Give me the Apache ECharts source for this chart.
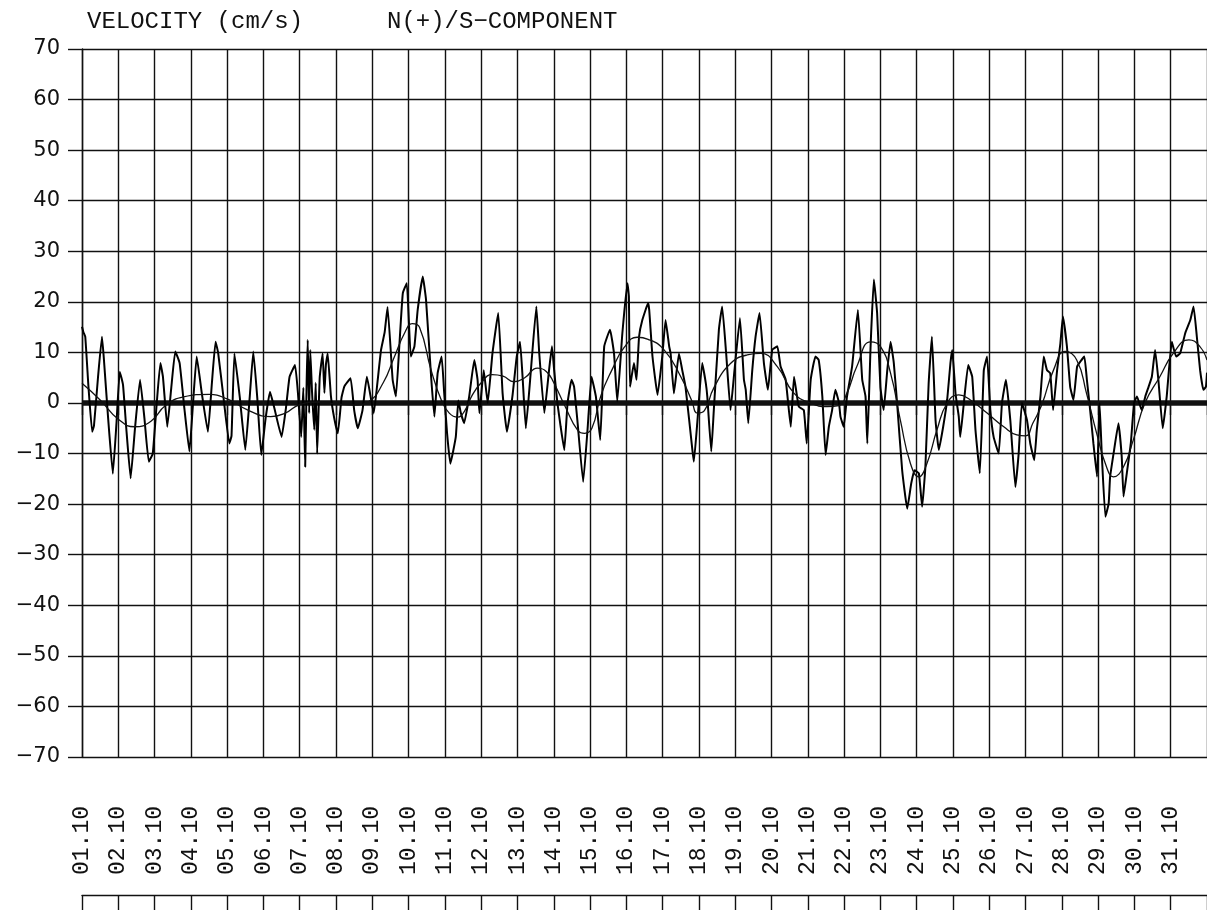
<!DOCTYPE html>
<html>
<head>
<meta charset="utf-8">
<title>Velocity N/S component</title>
<script src="https://cdn.jsdelivr.net/npm/echarts@6/dist/echarts.min.js"></script>
<style>
  html, body { margin: 0; padding: 0; background: #fff; }
  #chart { width: 1207px; height: 910px; }
</style>
</head>
<body>
<div id="chart"></div>
<script>
// Day labels along the time axis (one per day of October)
const DAY_LABELS = [
  '01.10','02.10','03.10','04.10','05.10','06.10','07.10','08.10','09.10','10.10',
  '11.10','12.10','13.10','14.10','15.10','16.10','17.10','18.10','19.10','20.10',
  '21.10','22.10','23.10','24.10','25.10','26.10','27.10','28.10','29.10','30.10','31.10'
];
const Y_MIN = -70, Y_MAX = 70, Y_STEP = 10;
const TITLE_LEFT = 'VELOCITY (cm/s)';
const TITLE_RIGHT = 'N(+)/S\u2212COMPONENT';

// Measured current, [time in days since 01.10 00:00, velocity cm/s]
const RAW_DAYS_01_05 = [
  [0.00,15.1],[0.04,14.0],[0.09,13.1],[0.18,3.0],[0.28,-5.7],[0.33,-4.5],[0.44,5.0],[0.55,13.1],[0.60,9.0],
  [0.72,-3.0],[0.85,-14.0],[0.95,-4.0],[1.04,6.2],[1.13,3.6],[1.22,-5.0],[1.34,-14.9],[1.46,-5.0],
  [1.60,4.6],[1.72,-3.0],[1.84,-11.6],[1.95,-10.0],[2.06,0.0],[2.16,7.9],[2.23,5.2],[2.35,-4.7],
  [2.46,3.0],[2.57,10.2],[2.69,7.9],[2.82,-1.0],[2.96,-9.6],[3.06,0.0],[3.16,9.2],[3.30,2.0],
  [3.47,-5.7],[3.58,4.0],[3.68,12.1],[3.75,10.0],[3.90,1.0],[4.06,-8.0],[4.12,-6.5],[4.20,9.8],
  [4.35,1.0],[4.50,-9.3],[4.62,1.0],[4.72,10.2],[4.83,1.0],[4.94,-10.3],[5.06,-3.0],[5.18,2.2]
];
const RAW_DAYS_06_10 = [
  [5.30,-1.0],[5.50,-6.7],[5.62,-1.0],[5.72,5.2],[5.87,7.5],[5.95,2.0],[6.04,-6.7],[6.10,3.0],
  [6.15,-12.6],[6.19,4.0],[6.22,12.5],[6.26,-2.0],[6.29,10.5],[6.34,2.0],[6.40,-5.3],[6.44,4.0],
  [6.48,-10.0],[6.55,5.0],[6.63,9.8],[6.68,2.0],[6.72,7.5],[6.77,9.8],[6.86,1.3],[6.95,-3.0],
  [7.05,-6.0],[7.15,1.0],[7.23,3.3],[7.40,4.9],[7.50,-1.4],[7.60,-5.0],[7.73,-1.4],[7.85,5.2],
  [8.04,-2.0],[8.14,4.0],[8.24,10.5],[8.34,14.0],[8.42,19.0],[8.56,4.6],[8.65,1.3],[8.75,12.0],
  [8.84,21.7],[8.95,23.7],[9.06,9.2],[9.16,11.2],[9.25,18.4],[9.39,25.0],[9.48,20.4],[9.62,5.2],
  [9.71,-2.7],[9.80,5.9],[9.91,9.2],[9.98,2.0],[10.06,-6.0],[10.15,-12.0],[10.30,-6.7],[10.37,0.5]
];
const RAW_DAYS_11_15 = [
  [10.44,-2.0],[10.53,-4.0],[10.67,1.3],[10.81,8.5],[10.90,4.6],[10.95,-2.0],[11.07,6.5],[11.18,0.0],
  [11.31,9.8],[11.47,17.8],[11.59,1.9],[11.71,-5.7],[11.86,1.3],[11.98,9.2],[12.07,12.1],[12.14,5.2],
  [12.23,-5.0],[12.37,6.5],[12.52,19.1],[12.60,9.8],[12.74,-2.0],[12.87,6.5],[12.95,11.2],[13.01,6.5],
  [13.10,0.0],[13.19,-4.7],[13.29,-9.3],[13.38,0.0],[13.49,4.6],[13.56,3.2],[13.65,-3.4],[13.81,-15.6],
  [13.93,-5.3],[14.04,5.2],[14.16,1.3],[14.28,-7.3],[14.39,11.2],[14.55,14.5],[14.66,9.8],[14.75,0.3],
  [14.89,13.8],[15.03,23.7],[15.07,21.0],[15.10,3.2],[15.21,7.9],[15.28,4.6],[15.35,13.1],[15.44,16.4],
  [15.60,19.7]
];
const RAW_DAYS_16_20 = [
  [15.63,18.4],[15.72,9.2],[15.86,1.6],[15.99,9.2],[16.08,16.4],[16.18,11.2],[16.22,9.8],[16.31,1.9],
  [16.45,9.8],[16.54,6.5],[16.63,3.2],[16.82,-9.3],[16.86,-11.6],[16.96,-3.4],[17.09,7.9],[17.19,3.9],
  [17.23,1.3],[17.34,-9.6],[17.41,-1.4],[17.55,14.5],[17.64,19.1],[17.75,9.8],[17.87,-1.4],[17.98,6.5],
  [18.13,16.8],[18.24,4.6],[18.29,2.6],[18.36,-4.0],[18.47,6.5],[18.56,13.1],[18.67,17.8],[18.79,7.9],
  [18.90,2.6],[19.02,10.5],[19.16,11.2],[19.25,7.2],[19.39,4.6],[19.53,-4.7],[19.62,5.2],[19.75,-0.7],
  [19.89,-1.4],[19.97,-8.0],[20.08,4.6],[20.21,9.2],[20.30,8.5],[20.40,1.3],[20.49,-10.3],[20.58,-4.7],
  [20.67,-1.4],[20.76,2.6],[20.86,0.0]
];
const RAW_DAYS_21_25 = [
  [20.90,-2.7],[20.99,-4.7],[21.08,1.3],[21.22,7.2],[21.38,18.4],[21.50,4.6],[21.59,1.3],[21.64,-8.0],
  [21.73,11.2],[21.82,24.4],[21.91,17.8],[22.00,3.2],[22.09,-1.4],[22.19,6.5],[22.28,12.1],[22.37,7.9],
  [22.46,0.0],[22.60,-13.3],[22.74,-20.9],[22.85,-15.9],[22.94,-13.3],[23.06,-13.9],[23.15,-20.5],
  [23.24,-12.6],[23.33,3.9],[23.42,13.1],[23.52,-3.4],[23.61,-9.3],[23.73,-4.7],[23.84,0.6],[23.93,7.9],
  [23.98,10.5],[24.07,1.9],[24.16,-2.7],[24.20,-6.7],[24.30,0.0],[24.42,7.5],[24.53,5.2],[24.62,-5.3],
  [24.74,-13.9],[24.85,6.5],[24.94,9.2],[25.03,-1.4],[25.12,-6.7],[25.26,-10.0],[25.35,0.0],[25.46,4.6],
  [25.58,-3.4],[25.72,-16.6],[25.81,-10.0],[25.90,0.0],[26.04,-3.4]
];
const RAW_DAYS_26_31 = [
  [26.13,-8.0],[26.24,-11.3],[26.31,-5.3],[26.41,1.3],[26.50,9.2],[26.59,6.5],[26.68,5.9],[26.76,-1.4],
  [26.87,6.5],[26.96,11.8],[27.03,17.1],[27.14,11.2],[27.23,3.2],[27.32,0.6],[27.42,7.2],[27.51,8.2],
  [27.62,9.2],[27.69,4.6],[27.78,-1.4],[27.87,-8.0],[27.97,-14.6],[28.04,0.0],[28.10,-10.0],[28.20,-22.5],
  [28.29,-19.9],[28.33,-14.6],[28.44,-9.3],[28.56,-4.0],[28.65,-10.6],[28.70,-18.5],[28.79,-13.9],
  [28.90,-8.0],[28.99,0.0],[29.07,1.3],[29.20,-1.4],[29.30,1.3],[29.39,3.2],[29.48,5.2],[29.57,10.5],
  [29.66,4.6],[29.78,-5.0],[29.89,1.3],[30.03,12.1],[30.15,9.2],[30.26,9.8],[30.40,13.8],[30.54,16.4],
  [30.63,19.1],[30.72,13.1],[30.81,6.5],[30.90,2.6],[30.97,3.2],[31.00,6.0]
];

// Low-pass filtered (residual) current, [days, cm/s]
const FILTERED = [
  [0.0,3.9],[0.5,0.6],[1.0,-3.2],[1.45,-4.7],[1.9,-3.6],[2.3,-0.5],[2.8,1.2],[3.5,1.7],[4.0,0.8],
  [4.6,-1.5],[5.2,-2.7],[5.6,-2.0],[6.0,-0.3],[6.5,0.2],[7.0,-0.2],[7.5,-0.4],[7.9,0.3],[8.3,4.0],
  [8.6,9.0],[8.9,14.0],[9.1,15.7],[9.3,15.0],[9.62,6.5],[9.9,0.6],[10.12,-2.0],[10.35,-2.8],
  [10.55,-1.5],[10.75,1.5],[11.0,4.0],[11.3,5.6],[11.6,5.3],[11.9,4.2],[12.2,5.0],[12.55,6.9],
  [12.8,6.2],[13.0,4.0],[13.3,-0.5],[13.67,-5.5],[13.85,-6.0],[14.05,-5.0],[14.3,1.5],[14.6,6.5],
  [14.94,11.0],[15.3,13.0],[15.6,12.6],[16.04,10.5],[16.5,5.2],[16.8,0.5],[16.96,-2.0],[17.15,-1.5],
  [17.41,3.0],[17.87,7.8],[18.33,9.5],[18.7,9.8],[19.16,7.2],[19.61,2.0],[20.07,0.0],[20.53,-0.7],
  [20.85,-0.5],[21.08,2.0],[21.35,7.2],[21.73,12.1],[22.0,11.2],[22.28,5.9],[22.55,-3.4],[22.83,-12.0],
  [23.06,-14.6],[23.28,-12.0],[23.56,-5.3],[23.84,0.0],[24.16,1.6],[24.48,0.6],[24.94,-2.0],[25.4,-4.7],
  [25.76,-6.3],[26.0,-6.5],[26.2,-4.0],[26.45,-0.3],[26.77,6.5],[27.09,10.2],[27.41,8.5],[27.68,1.9],
  [27.96,-6.0],[28.23,-12.6],[28.42,-14.6],[28.7,-12.6],[28.97,-7.3],[29.29,0.0],[29.7,5.2],[30.07,9.8],
  [30.5,12.5],[30.8,11.2],[31.0,8.5]
];
const ZERO_LINE = [[0, 0], [31, 0]];

const RAW = [].concat(RAW_DAYS_01_05, RAW_DAYS_06_10, RAW_DAYS_11_15,
                      RAW_DAYS_16_20, RAW_DAYS_21_25, RAW_DAYS_26_31);

const INK = '#111';
const chart = echarts.init(document.getElementById('chart'), null, { renderer: 'canvas' });

chart.setOption({
  backgroundColor: '#fff',
  animation: false,
  title: [
    { text: TITLE_LEFT, left: 82, top: 5,
      textStyle: { fontFamily: 'Liberation Mono', fontWeight: 'normal', fontSize: 24, color: INK } },
    { text: TITLE_RIGHT, left: 382, top: 5,
      textStyle: { fontFamily: 'Liberation Mono', fontWeight: 'normal', fontSize: 24, color: INK } }
  ],
  grid: [
    { left: 82, top: 49, width: 1126, height: 708, containLabel: false },
    { left: 82, top: 880, width: 1126, height: 15, containLabel: false }
  ],
  xAxis: [
    {
      type: 'value', gridIndex: 0, min: 0, max: DAY_LABELS.length, interval: 1,
      axisLine: { show: true, lineStyle: { color: INK, width: 1.4 } },
      axisTick: { show: true, length: 12, inside: false, lineStyle: { color: INK, width: 1.4 } },
      splitLine: { show: true, lineStyle: { color: INK, width: 1.4 } },
      axisLabel: {
        rotate: 90, margin: 49, color: INK, fontFamily: 'Liberation Mono', fontSize: 23,
        formatter: v => (v < DAY_LABELS.length ? DAY_LABELS[v] : '')
      }
    },
    {
      type: 'value', gridIndex: 1, min: 0, max: DAY_LABELS.length, interval: 1,
      axisLine: { show: true, lineStyle: { color: INK, width: 1.4 } },
      axisTick: { show: true, length: 15, inside: false, lineStyle: { color: INK, width: 1.4 } },
      splitLine: { show: false },
      axisLabel: { show: false }
    }
  ],
  yAxis: [
    {
      type: 'value', gridIndex: 0, min: Y_MIN, max: Y_MAX, interval: Y_STEP,
      axisLine: { show: true, lineStyle: { color: INK, width: 1.4 } },
      axisTick: { show: true, length: 14, inside: false, lineStyle: { color: INK, width: 1.4 } },
      splitLine: { show: true, lineStyle: { color: INK, width: 1.4 } },
      axisLabel: {
        margin: 22, color: INK, fontFamily: 'DejaVu Sans', fontSize: 21,
        formatter: v => (v < 0 ? '\u2212' + Math.abs(v) : String(v))
      }
    },
    { type: 'value', gridIndex: 1, show: false, min: 0, max: 1 }
  ],
  series: [
    {
      name: 'zero', type: 'line', xAxisIndex: 0, yAxisIndex: 0, data: ZERO_LINE,
      showSymbol: false, silent: true,
      lineStyle: { color: INK, width: 5.5 }
    },
    {
      name: 'measured', type: 'line', xAxisIndex: 0, yAxisIndex: 0, data: RAW,
      showSymbol: false, smooth: 0.12, silent: true,
      lineStyle: { color: '#000', width: 2.0 }
    },
    {
      name: 'filtered', type: 'line', xAxisIndex: 0, yAxisIndex: 0, data: FILTERED,
      showSymbol: false, smooth: true, silent: true,
      lineStyle: { color: INK, width: 1.3 }
    }
  ]
});
</script>
</body>
</html>
